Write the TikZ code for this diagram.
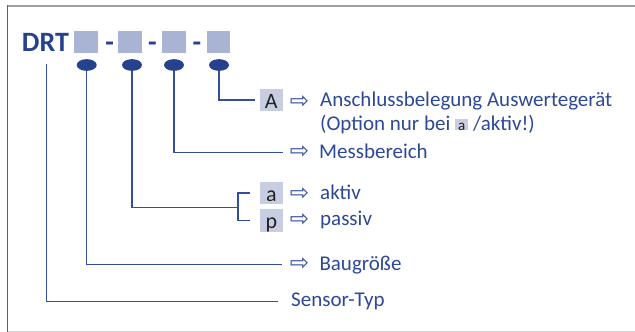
\documentclass[tikz,border=0pt]{standalone}
\usepackage{fontspec}
\setmainfont{Carlito}
\newfontfamily\arrowfont{DejaVu Sans}
\usepackage{xcolor}
\usetikzlibrary{shapes.geometric}

\definecolor{drtblue}{RGB}{38,66,143}
\definecolor{lineblue}{RGB}{52,78,158}
\definecolor{textblue}{RGB}{44,72,152}
\definecolor{sqgray}{RGB}{169,179,211}
\definecolor{letgray}{RGB}{200,206,226}
\definecolor{lettxt}{RGB}{34,34,34}

\newcommand{\optbox}[1]{{\setlength{\fboxsep}{0pt}\colorbox{letgray}{\makebox[13.3pt]{\rule{0pt}{10.7pt}\textcolor{lettxt}{\fontsize{15}{15}\selectfont #1}}}}}

\tikzset{
  sq/.style={fill=sqgray, minimum width=23.5pt, minimum height=22.7pt, inner sep=0},
  dot/.style={ellipse, fill=drtblue, minimum width=20pt, minimum height=11.7pt, inner sep=0},
  letbox/.style={fill=letgray, text=lettxt, minimum width=22.7pt, inner sep=0, text height=19.5pt, text depth=3pt, font=\fontsize{22}{22}\selectfont},
  arr/.style={text=lineblue, inner sep=0, font=\arrowfont\fontsize{23}{23}\selectfont},
  lbl/.style={text=textblue, inner sep=0, anchor=base west, font=\fontsize{21}{24}\selectfont},
  bold/.style={text=drtblue, inner sep=0, anchor=base, font=\bfseries\fontsize{28}{28}\selectfont},
  conn/.style={draw=lineblue, line width=1.3pt}
}

\begin{document}
\begin{tikzpicture}[x=1pt, y=-1pt]

\useasboundingbox (0,0) rectangle (635,332);

\draw [draw={rgb,255:red,160;green,160;blue,160}, line width=1.7pt] (7,5.7) -- (635,5.7);
\draw [draw={rgb,255:red,210;green,210;blue,210}, line width=1pt] (7,331) -- (635,331);
\draw [draw={rgb,255:red,95;green,95;blue,95}, line width=1.3pt] (7.3,5) -- (7.3,331.5);


\node (drt) at (21.7, 51.7) [bold, anchor=base west] {DRT};

\node (sq1) at (85.8, 42) [sq] {};
\node (sq2) at (130, 42) [sq] {};
\node (sq3) at (174, 42) [sq] {};
\node (sq4) at (218.3, 42) [sq] {};

\node (dash1) at (109.7, 51.7) [bold] {-};
\node (dash2) at (152.5, 51.7) [bold] {-};
\node (dash3) at (197, 51.7) [bold] {-};

\node (d1) at (86.7, 65) [dot] {};
\node (d2) at (132, 65) [dot] {};
\node (d3) at (174, 65) [dot] {};
\node (d4) at (219, 65) [dot] {};

\coordinate (drtfoot) at (46.7, 64.3);


  \node (boxA) at (271.3, 100) [letbox] {A};
  \node (arrA) at (299.5, 101.7) [arr] {⇨};
  \node (ausw) at (320, 106.7) [lbl] {Anschlussbelegung Auswertegerät};
  \node (opt) at (320, 130) [lbl] {(Option nur bei \optbox{a} /aktiv!)};

  \node (arrM) at (299.5, 152.5) [arr] {⇨};
  \node (mess) at (319, 158) [lbl] {Messbereich};

  \node (boxa) at (271.3, 193) [letbox] {a};
  \node (arra) at (299.5, 194) [arr] {⇨};
  \node (aktiv) at (320, 199.5) [lbl] {aktiv};

  \node (boxp) at (271.3, 220.3) [letbox] {p};
  \node (arrp) at (299.5, 220.5) [arr] {⇨};
  \node (passiv) at (320, 225.5) [lbl] {passiv};

  \coordinate (brk) at (238.3, 207.5);

  \node (arrB) at (299.5, 264.5) [arr] {⇨};
  \node (bau) at (319.3, 270) [lbl] {Baugröße};

  \node (sensor) at (291, 306.7) [lbl] {Sensor-Typ};


\draw [conn, shorten >=5pt] (d4) |- (boxA.west);

\draw [conn, shorten >=7pt] (d3) |- (arrM.west);

\draw [conn] (d2) |- (brk);

\draw [conn] ([xshift=-10pt]boxa.west) -| ([xshift=-21.7pt]boxp.west) -- ([xshift=-10pt]boxp.west);

\draw [conn, shorten >=8pt] (d1) |- (arrB.west);

\draw [conn, shorten >=13.3pt] (drtfoot) |- (sensor.west);

\end{tikzpicture}
\end{document}
